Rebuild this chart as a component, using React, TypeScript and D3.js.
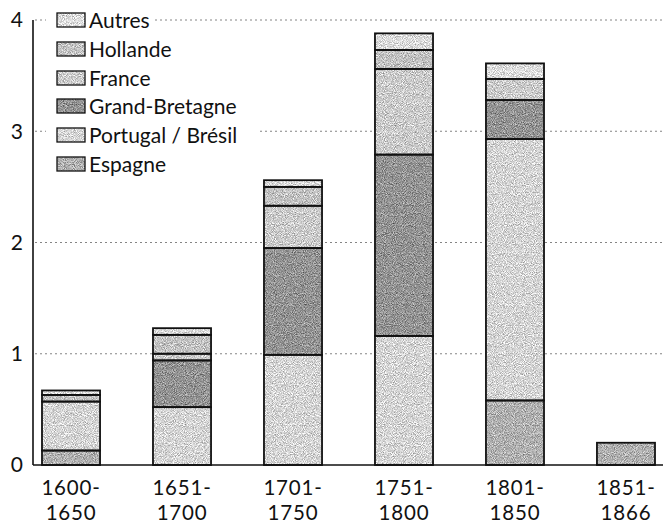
import React from "react";
import * as d3 from "d3";

const categories = ["1600-1650", "1651-1700", "1701-1750", "1751-1800", "1801-1850", "1851-1866"];
const labelTop = ["1600-", "1651-", "1701-", "1751-", "1801-", "1851-"];
const labelBottom = ["1650", "1700", "1750", "1800", "1850", "1866"];

const seriesKeys = ["Espagne", "Portugal / Brésil", "Grand-Bretagne", "France", "Hollande", "Autres"];
const espagne = [0.13, 0, 0, 0, 0.58, 0.2];
const portugal = [0.44, 0.52, 0.99, 1.16, 2.35, 0];
const grandeBretagne = [0, 0.42, 0.96, 1.63, 0.35, 0];
const france = [0, 0.06, 0.38, 0.77, 0.19, 0];
const hollande = [0.06, 0.17, 0.17, 0.17, 0, 0];
const autres = [0.04, 0.06, 0.06, 0.15, 0.14, 0];
const yTicks = [0, 1, 2, 3, 4];

const colors: Record<string, string> = {
  "Espagne": "#b0b0b0",
  "Portugal / Brésil": "#d4d4d4",
  "Grand-Bretagne": "#939393",
  "France": "#cbcbcb",
  "Hollande": "#c2c2c2",
  "Autres": "#dcdcdc",
};

const W = 663;
const H = 524;
const FONT = "Lato, 'Open Sans', sans-serif";

export default function App() {
  const rows = categories.map((c, i) => ({
    cat: c,
    "Espagne": espagne[i],
    "Portugal / Brésil": portugal[i],
    "Grand-Bretagne": grandeBretagne[i],
    "France": france[i],
    "Hollande": hollande[i],
    "Autres": autres[i],
  }));
  const stacked = d3.stack<any>().keys(seriesKeys)(rows);

  const x = d3.scaleBand<string>().domain(categories).range([42, 655]).paddingInner(0.477).paddingOuter(0);
  const y = d3.scaleLinear().domain([0, 4]).range([465, 20]);
  const axisX = 33;

  const legendItems = [...seriesKeys].reverse();
  const legendBaselines = [28, 57, 86, 114, 143, 172];

  return (
    <svg width={W} height={H} style={{ position: "absolute", left: 0, top: 0, background: "#fff" }}>
      <defs>
        <filter id="grain" x="0" y="0" width="100%" height="100%" colorInterpolationFilters="sRGB">
          <feTurbulence type="fractalNoise" baseFrequency="1.1" numOctaves="1" seed="7" result="n" />
          <feColorMatrix in="n" type="matrix" values="1 0 0 0 0  1 0 0 0 0  1 0 0 0 0  0 0 0 0 1" result="g" />
          <feComposite in="g" in2="SourceGraphic" operator="arithmetic" k1="0" k2="0.9" k3="1" k4="-0.45" result="c" />
          <feComposite in="c" in2="SourceAlpha" operator="in" />
        </filter>
      </defs>

      {/* gridlines */}
      {yTicks.filter((t) => t > 0).map((t) => (
        <line key={"g" + t} x1={axisX + 2} x2={W} y1={y(t)} y2={y(t)} stroke="#777" strokeWidth={0.9} strokeDasharray="2 3" />
      ))}

      {/* bars */}
      {stacked.map((s) => (
        <g key={s.key}>
          {s.map((d, i) => {
            const h = y(d[0]) - y(d[1]);
            if (h <= 0.01) return null;
            return (
              <rect key={i} x={x(categories[i])} y={y(d[1])} width={x.bandwidth()} height={h}
                fill={colors[s.key]} filter="url(#grain)" />
            );
          })}
        </g>
      ))}
      {stacked.map((s) => (
        <g key={"o" + s.key}>
          {s.map((d, i) => {
            const h = y(d[0]) - y(d[1]);
            if (h <= 0.01) return null;
            return (
              <rect key={i} x={x(categories[i])} y={y(d[1])} width={x.bandwidth()} height={h}
                fill="none" stroke="#111" strokeWidth={1.8} />
            );
          })}
        </g>
      ))}

      {/* axes */}
      <line x1={axisX} x2={axisX} y1={y(4)} y2={y(0)} stroke="#111" strokeWidth={1.6} />
      <line x1={axisX} x2={W} y1={y(0)} y2={y(0)} stroke="#111" strokeWidth={1.6} />
      {yTicks.map((t) => (
        <text key={"t" + t} x={23} y={y(t)} dy="0.35em" textAnchor="end" fontFamily={FONT} fontSize={21} fill="#111">{t}</text>
      ))}
      {categories.map((c, i) => {
        const cx = (x(c) as number) + x.bandwidth() / 2;
        return (
          <g key={"xl" + c}>
            <text x={cx} y={495} textAnchor="middle" fontFamily={FONT} fontSize={20.5} letterSpacing={0.8} fill="#111">{labelTop[i]}</text>
            <text x={cx} y={520} textAnchor="middle" fontFamily={FONT} fontSize={20.5} letterSpacing={0.8} fill="#111">{labelBottom[i]}</text>
          </g>
        );
      })}

      {/* legend */}
      {legendItems.map((k, i) => {
        const by = legendBaselines[i];
        return (
          <g key={"lg" + k}>
            <rect x={46} y={by - 20} width={k.length * 9.6 + 50} height={26} fill="#fff" />
            <rect x={57} y={by - 15} width={28} height={14} fill={colors[k]} filter="url(#grain)" />
            <rect x={57} y={by - 15} width={28} height={14} fill="none" stroke="#111" strokeWidth={1.3} />
            <text x={89} y={by} fontFamily={FONT} fontSize={21} fill="#111">{k}</text>
          </g>
        );
      })}
    </svg>
  );
}
